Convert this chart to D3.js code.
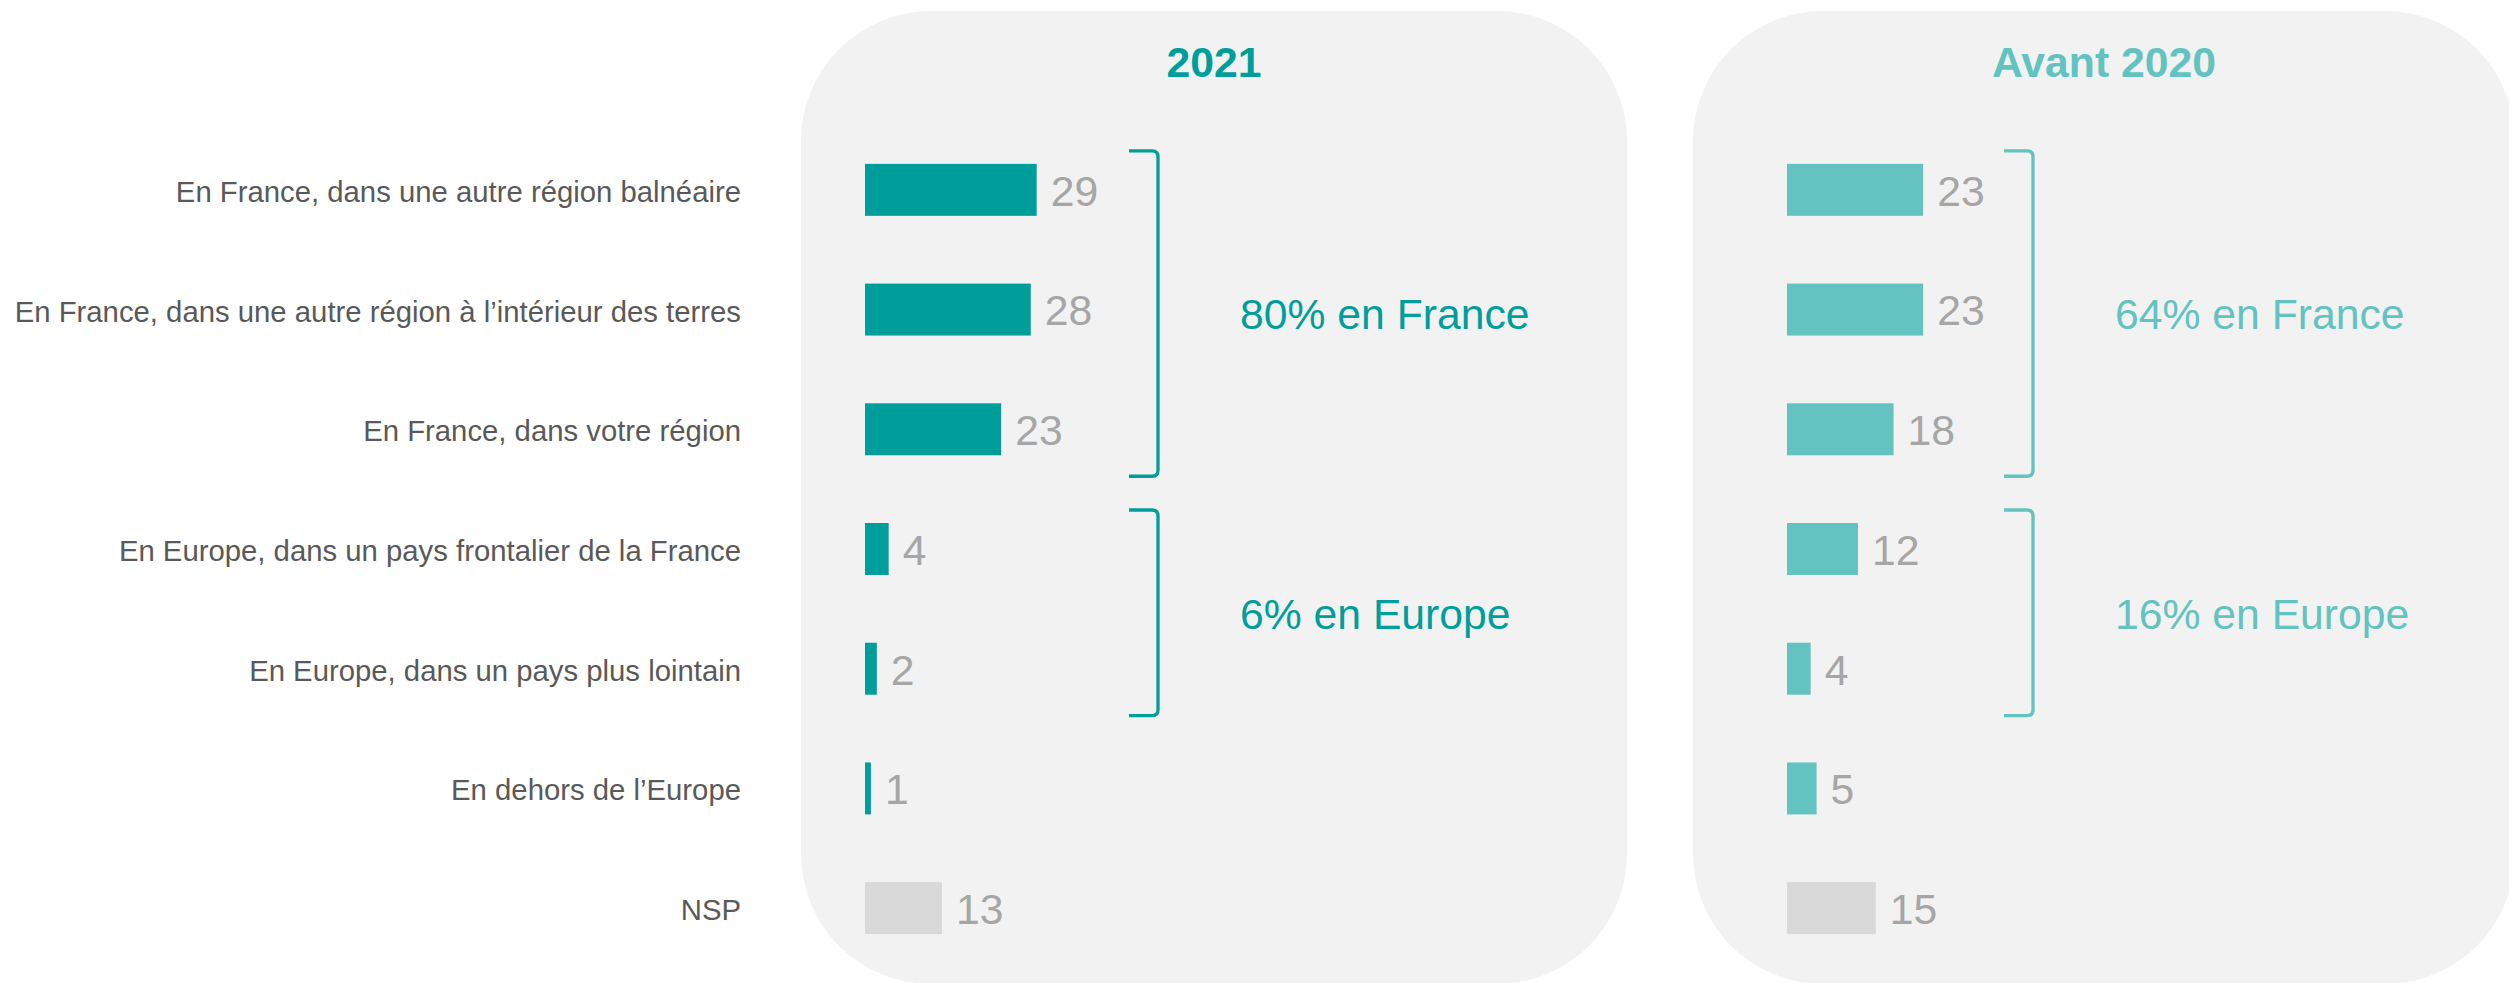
<!DOCTYPE html>
<html>
<head>
<meta charset="utf-8">
<script src="https://cdn.jsdelivr.net/npm/d3@7"></script>
<style>
  body { margin: 0; background: #ffffff; }
  svg { display: block; font-family: "Liberation Sans", Arial, sans-serif; }
</style>
</head>
<body>
<svg id="chart" width="2509" height="983"></svg>
<script>
let categories = [
    "En France, dans une autre région balnéaire",
    "En France, dans une autre région à l’intérieur des terres",
    "En France, dans votre région",
    "En Europe, dans un pays frontalier de la France",
    "En Europe, dans un pays plus lointain",
    "En dehors de l’Europe",
    "NSP"
]
let values2021 = [29, 28, 23, 4, 2, 1, 13]
let valuesAvant2020 = [23, 23, 18, 12, 4, 5, 15]
let panelTitles = ["2021", "Avant 2020"]

// index ranges of the categories grouped by the brackets
let bracketRanges = [[0, 2], [3, 4]]
let bracketLabels2021 = ["80% en France", "6% en Europe"]
let bracketLabelsAvant2020 = ["64% en France", "16% en Europe"]

let svg = d3.select('#chart')

let y = d3.scaleBand()
    .domain(categories)
    .range([130, 968])
    .paddingInner(0.566)
    .paddingOuter(0.283)

let x = d3.scaleLinear()
    .domain([0, 100])
    .range([0, 592])

let panels = [
    {title: panelTitles[0], values: values2021, labels: bracketLabels2021, color: '#009E9A',
     left: 801, right: 1627, barX: 865, bracketX: 1158},
    {title: panelTitles[1], values: valuesAvant2020, labels: bracketLabelsAvant2020, color: '#62C3C0',
     left: 1693, right: 2515, barX: 1787, bracketX: 2033}
]

// category labels on the left
svg.append('g')
    .selectAll('text')
    .data(categories)
    .enter()
    .append('text')
    .attr('x', 741)
    .attr('y', (d) => y(d) + y.bandwidth() / 2)
    .attr('dy', '0.41em')
    .attr('text-anchor', 'end')
    .attr('font-size', 29.3)
    .attr('fill', '#595959')
    .text((d) => d)

let drawPanel = (p) => {
    let g = svg.append('g')

    g.append('rect')
        .attr('x', p.left)
        .attr('y', 11)
        .attr('width', p.right - p.left)
        .attr('height', 973)
        .attr('rx', 130)
        .attr('ry', 130)
        .attr('fill', '#F2F2F2')

    g.append('text')
        .attr('x', (p.left + p.right) / 2)
        .attr('y', 77)
        .attr('text-anchor', 'middle')
        .attr('font-size', 42.7)
        .attr('font-weight', 'bold')
        .attr('fill', p.color)
        .text(p.title)

    g.selectAll('rect.bar')
        .data(p.values)
        .enter()
        .append('rect')
        .attr('class', 'bar')
        .attr('x', p.barX)
        .attr('y', (d, i) => y(categories[i]))
        .attr('width', (d) => x(d))
        .attr('height', y.bandwidth())
        .attr('fill', (d, i) => categories[i] === 'NSP' ? '#D9D9D9' : p.color)

    g.selectAll('text.value')
        .data(p.values)
        .enter()
        .append('text')
        .attr('class', 'value')
        .attr('x', (d) => p.barX + x(d) + 14)
        .attr('y', (d, i) => y(categories[i]) + y.bandwidth() / 2)
        .attr('dy', '0.37em')
        .attr('font-size', 42.7)
        .attr('fill', '#A6A6A6')
        .text((d) => d)

    bracketRanges.forEach((r, k) => {
        let top = y(categories[r[0]]) - 13
        let bottom = y(categories[r[1]]) + y.bandwidth() + 21
        let bx = p.bracketX
        g.append('path')
            .attr('d', `M${bx - 29},${top} H${bx - 6} Q${bx},${top} ${bx},${top + 6} V${bottom - 6} Q${bx},${bottom} ${bx - 6},${bottom} H${bx - 29}`)
            .attr('fill', 'none')
            .attr('stroke', p.color)
            .attr('stroke-width', 3.3)

        g.append('text')
            .attr('x', bx + 82)
            .attr('y', (top + bottom) / 2)
            .attr('dy', '0.37em')
            .attr('font-size', 42.7)
            .attr('fill', p.color)
            .text(p.labels[k])
    })
}

panels.forEach(drawPanel)
</script>
</body>
</html>
